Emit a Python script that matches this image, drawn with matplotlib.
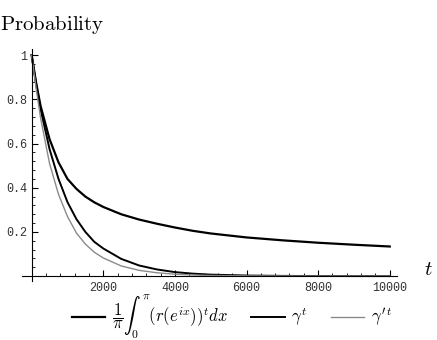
import matplotlib
matplotlib.use("Agg")
import matplotlib.pyplot as plt
from matplotlib.ticker import MultipleLocator

plt.rcParams['mathtext.fontset'] = 'cm'

# values
t = [0, 125, 250, 500, 750, 1000, 1250, 1500, 1750, 2000, 2500, 3000, 3500,
     4000, 4500, 5000, 6000, 7000, 8000, 9000, 10000]
integral = [1.0, 0.875, 0.77, 0.62, 0.515, 0.44, 0.395, 0.36, 0.334, 0.313, 0.28, 0.256, 0.237,
            0.22, 0.205, 0.193, 0.175, 0.162, 0.151, 0.142, 0.134]
gamma = [1.0, 0.87, 0.755, 0.575, 0.44, 0.335, 0.258, 0.20, 0.155, 0.125, 0.078, 0.048, 0.030,
         0.018, 0.011, 0.0066, 0.0025, 0.0009, 0.0003, 0.0001, 0.0]
gamma2 = [1.0, 0.85, 0.715, 0.51, 0.37, 0.27, 0.195, 0.145, 0.108, 0.082, 0.046, 0.026, 0.015,
          0.0085, 0.005, 0.0028, 0.0009, 0.0003, 0.0, 0.0, 0.0]

xticks = [2000, 4000, 6000, 8000, 10000]
yticks = [0.2, 0.4, 0.6, 0.8, 1.0]
ylabels = ["0.2", "0.4", "0.6", "0.8", "1"]

fig = plt.figure(figsize=(4.37, 3.4), dpi=100)
ax = fig.add_axes([0.0503, 0.175, 0.858, 0.682])

l1, = ax.plot(t, integral, color='black', lw=1.6,
              label=r'$\dfrac{1}{\pi}\int_0^\pi (r(e^{ix}))^t dx$')
l2, = ax.plot(t, gamma, color='black', lw=1.4, label=r'$\gamma^t$')
l3, = ax.plot(t, gamma2, color='#8a8a8a', lw=1.0, label=r"$\gamma'^t$")

ax.set_xlim(-270, 10200)
ax.set_ylim(-0.02, 1.03)
ax.spines['left'].set_position(('data', 0))
ax.spines['bottom'].set_position(('data', 0))
ax.spines['top'].set_visible(False)
ax.spines['right'].set_visible(False)

ax.set_xticks(xticks)
ax.set_xticklabels([str(x) for x in xticks])
ax.set_yticks(yticks)
ax.set_yticklabels(ylabels)
ax.xaxis.set_minor_locator(MultipleLocator(400))
ax.yaxis.set_minor_locator(MultipleLocator(0.04))
ax.tick_params(which='major', direction='in', length=4, width=0.8)
ax.tick_params(which='minor', direction='in', length=2, width=0.6)
ax.tick_params(axis='x', pad=4)
ax.tick_params(axis='y', pad=3)
for lab in ax.get_xticklabels() + ax.get_yticklabels():
    lab.set_family('Liberation Mono')
    lab.set_fontsize(8.5)
    lab.set_color('#333333')

fig.text(0.0, 0.925, r'$\mathrm{Probability}$', fontsize=15, va='center', ha='left')
fig.text(0.98, 0.21, r'$t$', fontsize=15, va='center', ha='center')

fig.legend(handles=[l1, l2, l3], loc='center', bbox_to_anchor=(0.53, 0.068),
           ncol=3, frameon=False, fontsize=12, handlelength=2.0,
           handletextpad=0.4, columnspacing=1.4)

fig.savefig("out.png", dpi=100)
